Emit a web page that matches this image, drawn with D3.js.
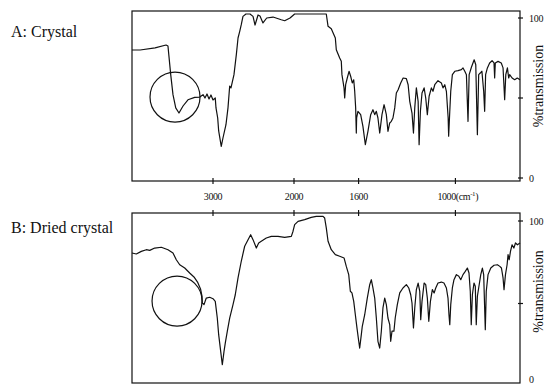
<!DOCTYPE html>
<html>
<head>
<meta charset="utf-8">
<script src="https://cdn.jsdelivr.net/npm/d3@7"></script>
<style>
  html, body { margin: 0; padding: 0; background: #fff; }
  svg { display: block; }
  text { font-family: "Liberation Serif", "Times New Roman", serif; fill: #111; }
</style>
</head>
<body>
<div id="chart"></div>
<script>
// wavenumber (cm-1) and % transmission
const wnA = [4000,3900,3715,3580,3556,3522,3494,3460,3420,3370,
  3309,3226,3164,3123,3099,3074,3049,3025,3000,2972,
  2963,2942,2930,2898,2877,2840,2815,2794,2778,2741,
  2712,2691,2670,2651,2630,2593,2543,2506,2481,2444,
  2420,2383,2337,2259,2157,2115,2049,1996,1800,1789,
  1769,1744,1738,1717,1707,1703,1690,1686,1680,1670,
  1659,1649,1639,1630,1624,1618,1614,1612,1604,1587,
  1573,1558,1542,1525,1511,1500,1490,1480,1469,1455,
  1442,1428,1418,1407,1397,1387,1376,1366,1355,1339,
  1324,1304,1293,1283,1269,1260,1252,1242,1231,1225,
  1217,1207,1194,1184,1174,1163,1149,1139,1128,1108,
  1087,1077,1066,1056,1045,1042,1035,1029,1019,1004,
  984,963,953,942,932,922,915,901,884,874,
  864,856,846,836,825,819,813,802,788,773,
  761,757,753,736,716,705,695,688,678,670,
  664,649,633,617,600];
const tA = [80,80,81.3,83.1,82.5,64.6,52.1,43.8,40.6,45,
  48.9,50.4,50.6,52.1,50,52.5,49.4,51.9,48.8,50,
  43.8,37.5,29.4,19.8,25,33.3,43.8,57.5,56.3,64.6,
  77.1,87.5,91.7,95.8,101,102.5,102.5,101,95.6,101.9,
  101.3,96.9,100,100.6,98.9,98.3,100,102.5,102.5,94.8,
  93.3,87.5,80.2,75,72.9,64.6,56.3,50,58.3,62.5,
  66.7,63.6,59.4,61.4,54.2,43.8,28.1,37.5,41.7,39.6,
  32.3,20.8,29.2,39.6,42.7,39.6,41.7,37.5,28.1,39.6,
  45.8,39.6,29.2,34.4,35.4,37.5,43.8,53.1,55.2,59.4,
  62.5,62.1,58.3,47.9,40.6,28.1,43.8,56.3,47.9,20.8,
  41.7,53.1,56.3,50,39.6,51.1,56.3,54.2,58.3,60.8,
  59.4,56.3,58.3,54.2,37.5,26.1,41.7,54.2,64.6,66.7,
  67.1,67.7,68.8,66.7,64.6,35.4,64.6,69.2,73.9,70.8,
  27.1,64.6,65.6,66.7,54.2,41.7,64.6,68.8,71.9,73.3,
  71.9,62.5,71.9,72.9,71.9,68.8,48.9,64.6,68.8,62.5,
  64.6,62.5,61.4,62.5,61.4];

const wnB = [4000,3947,3885,3823,3781,3720,3638,3556,3494,3453,
  3411,3349,3288,3235,3191,3154,3136,3132,3111,3083,
  3041,3000,2972,2947,2930,2905,2885,2864,2848,2823,
  2794,2753,2725,2691,2651,2609,2577,2535,2506,2465,
  2436,2404,2342,2280,2198,2115,2033,2012,1996,1975,
  1934,1893,1862,1820,1810,1800,1789,1769,1744,1717,
  1690,1676,1661,1651,1641,1630,1620,1610,1599,1593,
  1583,1577,1562,1546,1531,1521,1511,1500,1490,1480,
  1469,1459,1449,1438,1428,1418,1407,1401,1393,1381,
  1373,1360,1345,1325,1304,1289,1277,1269,1260,1252,
  1242,1231,1221,1215,1207,1194,1184,1174,1165,1155,
  1143,1132,1122,1108,1087,1071,1056,1046,1040,1035,
  1029,1019,1009,994,979,967,953,939,926,916,
  908,902,895,885,877,871,864,856,843,833,
  825,819,815,809,798,781,761,740,725,715,
  705,699,690,680,674,667,659,649,638,628,
  616,600];
const tB = [80.6,80,81.6,82.6,82.2,83.6,84.1,82.6,80.6,76.5,
  73.5,71.5,68.5,66.1,63,58.8,54.5,50.3,49.3,53.3,
  53.8,52.9,51.3,41.2,31.1,21,12.9,21,26.1,33.2,
  41.2,49.3,55.3,65.5,75.6,84.7,87.7,91.7,88.7,83.6,
  86.7,87.7,89.7,90.7,90.7,90.1,90.7,93.8,97.8,99.8,
  100.8,102.2,102.8,102.8,101.8,95.8,87.7,82.6,79.6,78.6,
  77.6,72.5,67.5,57.4,56.4,51.3,43.2,35.2,27.1,23,
  31.1,36.2,43.2,53.3,61.4,64.4,59.4,53.3,41.2,27.1,
  23,33.2,47.3,53.3,49.3,41.2,37.2,27.1,33.2,33.2,
  41.2,49.3,56.4,59.4,61.4,59.4,55.3,50.3,35.2,47.3,
  58.4,62.4,57.4,40.2,51.3,62.4,61.4,53.3,39.2,51.3,
  58.4,56.4,59.4,62.4,63,62.4,59.4,53.3,43.2,37.2,
  49.3,59.4,64.4,67.5,66.5,64.4,67.5,69.5,71.5,68.5,
  57.4,37.2,55.3,62.4,60.4,37.2,54.4,59.4,67.5,71.5,
  67.5,47.3,34.1,57.4,67.5,71.5,73.2,73.5,72.5,71.5,
  65.5,58.4,67.5,73.5,79.6,76.5,81.6,85.6,83.6,86.7,
  85.6,86.7];

const xTicks = [3000, 2000, 1600, 1000];
const xTickLabels = ['3000', '2000', '1600', '1000'];
const yTicks = [0, 50, 100];
const yTickLabels = ['0', '', '100'];

// circled O-H region: [wavenumber, %T] of the circle centre
const circleA = [3469, 50.6];
const circleB = [3444, 51.5];

const width = 547, height = 384;

const svg = d3.select('#chart').append('svg')
  .attr('width', width)
  .attr('height', height)
  .attr('viewBox', [0, 0, width, height]);

// IR chart paper: scale doubles below 2000 cm-1
const x = d3.scaleLinear().domain([4000, 2000, 600]).range([132, 294, 520]);

const panels = [
  { name: 'A: Crystal', wn: wnA, t: tA, circle: circleA, top: 11, bottom: 181,
    y: d3.scaleLinear().domain([0, 100]).range([178, 18]), labelY: 37, tickSide: 'bottom' },
  { name: 'B: Dried crystal', wn: wnB, t: tB, circle: circleB, top: 213, bottom: 383,
    y: d3.scaleLinear().domain([0, 100]).range([386, 221]), labelY: 233, tickSide: 'top' },
];

panels.forEach(p => {
  const g = svg.append('g');
  const x0 = x.range()[0], x1 = x.range()[2];

  g.append('rect')
    .attr('x', x0).attr('y', p.top)
    .attr('width', x1 - x0).attr('height', p.bottom - p.top)
    .attr('fill', 'none')
    .attr('stroke', '#111')
    .attr('stroke-width', 1.2);

  const edge = p.tickSide === 'bottom' ? p.bottom : p.top;
  g.selectAll('line.xt')
    .data(xTicks)
    .join('line')
    .attr('x1', d => x(d)).attr('x2', d => x(d))
    .attr('y1', edge - 3).attr('y2', edge + 3)
    .attr('stroke', '#111').attr('stroke-width', 1.2);

  g.selectAll('line.yt')
    .data(yTicks)
    .join('line')
    .attr('x1', x1 - 2).attr('x2', x1 + 3)
    .attr('y1', d => p.y(d)).attr('y2', d => p.y(d))
    .attr('stroke', '#111').attr('stroke-width', 1.2);

  g.selectAll('text.yl')
    .data(yTicks)
    .join('text')
    .attr('x', x1 + 9)
    .attr('y', d => Math.min(p.y(d) + 4, 383))
    .attr('font-size', 10)
    .attr('letter-spacing', -0.3)
    .text((d, i) => yTickLabels[i]);

  g.append('text')
    .attr('transform', `translate(543,${p.y(50) - 12}) rotate(-90)`)
    .attr('text-anchor', 'middle')
    .attr('font-size', 14)
    .text('%transmission');

  g.append('text')
    .attr('x', 11).attr('y', p.labelY)
    .attr('font-size', 16)
    .text(p.name);

  const line = d3.line()
    .x(d => x(d[0]))
    .y(d => p.y(d[1]));

  g.append('path')
    .datum(d3.zip(p.wn, p.t))
    .attr('d', line)
    .attr('fill', 'none')
    .attr('stroke', '#111')
    .attr('stroke-width', 1.2)
    .attr('stroke-linejoin', 'round');

  g.append('circle')
    .attr('cx', x(p.circle[0]))
    .attr('cy', p.y(p.circle[1]))
    .attr('r', 25)
    .attr('fill', 'none')
    .attr('stroke', '#111')
    .attr('stroke-width', 1.2);
});

// shared wavenumber labels between the panels
const lab = svg.append('g').attr('font-size', 10);
xTicks.forEach((d, i) => {
  const t = lab.append('text')
    .attr('y', 200)
    .attr('letter-spacing', -0.4);
  if (d === 1000) {
    t.attr('x', x(d) - 18);
    t.append('tspan').text(xTickLabels[i] + '(cm');
    t.append('tspan').attr('font-size', 7).attr('dy', -4).text('-1');
    t.append('tspan').attr('dy', 4).text(')');
  } else {
    t.attr('x', x(d)).attr('text-anchor', 'middle').text(xTickLabels[i]);
  }
});
</script>
</body>
</html>
